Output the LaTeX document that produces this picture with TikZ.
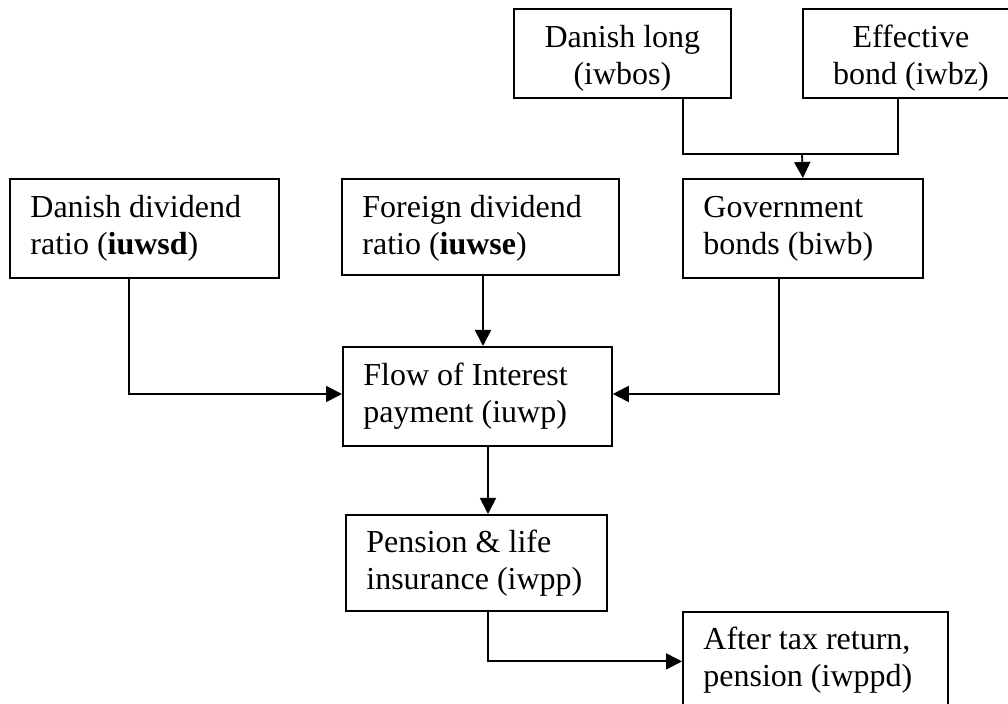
\documentclass[tikz,border=0pt]{standalone}
\usepackage{fontspec}
\setmainfont{Liberation Serif}
\usetikzlibrary{arrows.meta,calc}
\tikzset{
  boxnode/.style={draw=black, line width=0.9pt, rectangle, inner sep=0pt, anchor=north west},
  boxtext/.style={inner sep=0pt, font=\fontsize{16pt}{18.5pt}\selectfont},
  conn/.style={draw=black, line width=0.9pt},
  arr/.style={conn, -{Triangle[length=8pt,width=8pt]}}
}
\begin{document}
\begin{tikzpicture}[x=0.5pt,y=-0.5pt]
\useasboundingbox (0,0) rectangle (1008,704);
\clip (0,0) rectangle (1008,704);
% boxes
\node[boxnode, minimum width=108.5pt, minimum height=44.5pt] (dl) at (513,8) {};
\node[boxnode, minimum width=108pt, minimum height=44.5pt] (eb) at (802,8) {};
\node[boxnode, minimum width=134.5pt, minimum height=49.5pt] (dd) at (9,178) {};
\node[boxnode, minimum width=138.5pt, minimum height=48pt] (fd) at (341,178) {};
\node[boxnode, minimum width=120pt, minimum height=49.5pt] (gb) at (682,178) {};
\node[boxnode, minimum width=134.5pt, minimum height=49.5pt] (fl) at (342,346) {};
\node[boxnode, minimum width=130.5pt, minimum height=48pt] (pl) at (345,514) {};
\node[boxnode, minimum width=132.5pt, minimum height=49.5pt] (at) at (682,611) {};
% texts (anchor = baseline of the last line)
\node[boxtext, align=center, anchor=base] (dlt) at ($(dl.north)+(0,77)$) {Danish long\\(iwbos)};
\node[boxtext, align=center, anchor=base] (ebt) at ($(eb.north)+(0,77)$) {Effective\\bond (iwbz)};
\node[boxtext, align=left, anchor=base west] (ddt) at ($(dd.north west)+(21,77)$) {Danish dividend\\ratio (\textbf{iuwsd})};
\node[boxtext, align=left, anchor=base west] (fdt) at ($(fd.north west)+(21,77)$) {Foreign dividend\\ratio (\textbf{iuwse})};
\node[boxtext, align=left, anchor=base west] (gbt) at ($(gb.north west)+(21,77)$) {Government\\bonds (biwb)};
\node[boxtext, align=left, anchor=base west] (flt) at ($(fl.north west)+(21,77)$) {Flow of Interest\\payment (iuwp)};
\node[boxtext, align=left, anchor=base west] (plt) at ($(pl.north west)+(21,76)$) {Pension \& life\\insurance (iwpp)};
\node[boxtext, align=left, anchor=base west] (att) at ($(at.north west)+(21,76)$) {After tax return,\\pension (iwppd)};
% bend points
\coordinate (j1) at (802,154);
\coordinate (c1) at (683,0);
\coordinate (c2) at (898,0);
\coordinate (b1) at (129,394);
\coordinate (b2) at (779,394);
\coordinate (c3) at (483,0);
\coordinate (c4) at (488,0);
% connectors
\draw[conn] (dl.south -| c1) |- (j1) -| (eb.south -| c2);
\draw[arr] (j1) -- (gb.north);
\draw[arr] (dd.south -| b1) -- (b1) -- (fl.west |- b1);
\draw[arr] (gb.south -| b2) -- (b2) -- (fl.east |- b2);
\draw[arr] (fd.south -| c3) -- (fl.north -| c3);
\draw[arr] (fl.south -| c4) -- (pl.north -| c4);
\draw[arr] (pl.south -| c4) |- (at.west);
\end{tikzpicture}
\end{document}
